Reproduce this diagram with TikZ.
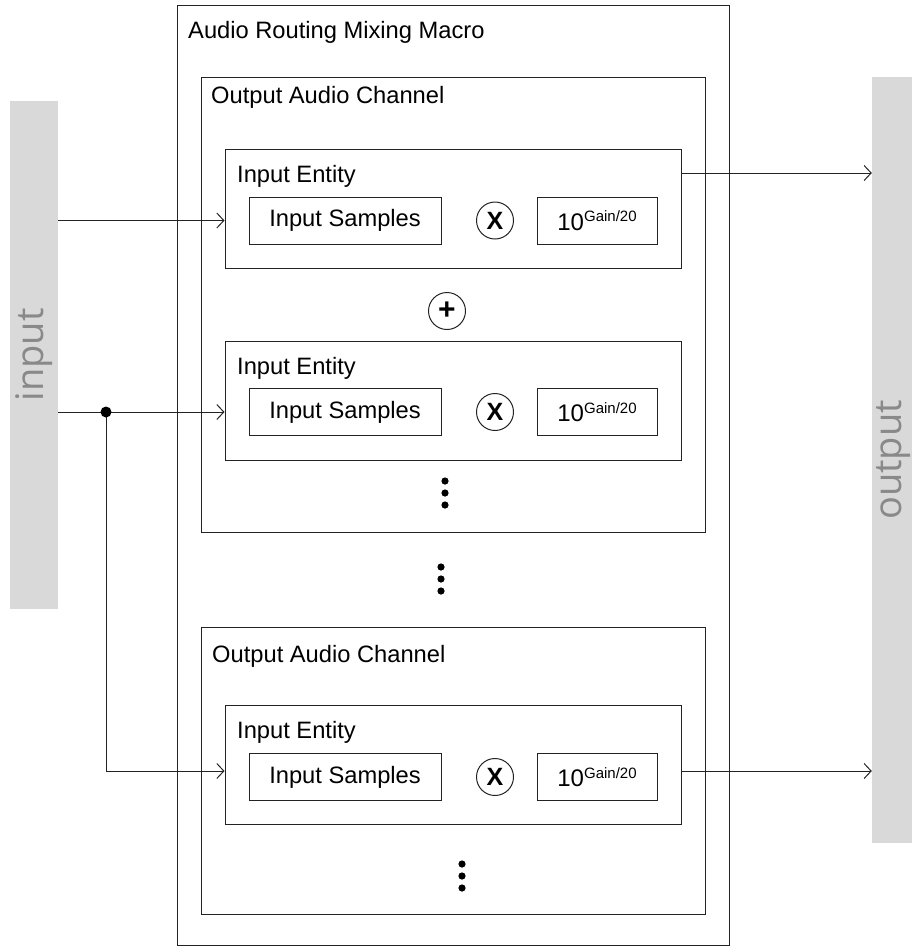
\documentclass[tikz,border=0pt]{standalone}
\usepackage{fontspec}
\setmainfont{Liberation Sans}
\newfontfamily\barfont{Open Sans}
\usepackage{xcolor}
\usepackage{tikz}
\usetikzlibrary{arrows.meta}
\definecolor{barfill}{RGB}{217,217,217}
\definecolor{bartext}{RGB}{137,137,137}
\definecolor{edge}{RGB}{35,35,35}
\newcommand{\gainexp}{{\fontsize{24}{28}\selectfont 10\raisebox{8.5pt}{\fontsize{15}{17}\selectfont Gain/20}}}
\tikzset{
  blk/.style={draw=edge, line width=1pt, inner sep=0pt},
  ttl/.style={anchor=base west, inner sep=0pt, font=\fontsize{23.7}{28}\selectfont},
  cell/.style={draw=edge, line width=1pt, minimum height=47pt, inner sep=0pt,
               font=\fontsize{23.7}{28}\selectfont},
  op/.style={circle, draw=edge, line width=1pt, minimum size=37pt, inner sep=0pt,
             font=\fontsize{25}{28}\selectfont\bfseries},
  bar/.style={fill=barfill, inner sep=0pt},
  barlbl/.style={rotate=90, inner sep=0pt, text=bartext, font=\barfont\fontsize{38}{44}\selectfont},
  sig/.style={-{Straight Barb[length=7pt, width=15pt]}, line width=1pt, draw=edge},
  wire/.style={line width=1pt, draw=edge}
}

\begin{document}
\begin{tikzpicture}[x=1pt, y=-1pt]
  \useasboundingbox (0,0) rectangle (912,951);
  % side bars
  \node[bar, minimum width=48pt, minimum height=508pt] (inbar) at (34,355) {};
  \node[barlbl] (intxt) at (inbar.center) {input};
  \node[bar, minimum width=44pt, minimum height=766pt] (outbar) at (894,460) {};
  \node[barlbl] (outtxt) at (outbar.center) {output};
  % macro and channels
  \node[blk, minimum width=552pt, minimum height=940pt] (macro) at (453,475) {};
  \node[ttl] (macrot) at (188,38) {Audio Routing Mixing Macro};
  \node[blk, minimum width=504pt, minimum height=455pt] (oac1) at (453,304.5) {};
  \node[ttl] (oac1t) at (211,103) {Output Audio Channel};
  \node[blk, minimum width=504pt, minimum height=287pt] (oac2) at (453,770.5) {};
  \node[ttl] (oac2t) at (212,662) {Output Audio Channel};
  % Row 1
  \node[blk, minimum width=456pt, minimum height=119pt] (ie1) at (453,208.5) {};
  \node[ttl] (ie1t) at (237,182) {Input Entity};
  \node[cell, minimum width=192pt] (samp1) at (345,220.5) {Input Samples};
  \node[op] (mul1) at (495,220.5) {X};
  \node[cell, minimum width=120pt] (gain1) at (597,220.5) {\gainexp};
  % sum
  \node[op, font=\fontsize{30}{30}\selectfont\bfseries] (sum) at (447,311) {+};
  % Row 2
  \node[blk, minimum width=456pt, minimum height=119pt] (ie2) at (453,400.5) {};
  \node[ttl] (ie2t) at (237,374) {Input Entity};
  \node[cell, minimum width=192pt] (samp2) at (345,412) {Input Samples};
  \node[op] (mul2) at (495,412) {X};
  \node[cell, minimum width=120pt] (gain2) at (597,412) {\gainexp};
  % Row 3
  \node[blk, minimum width=456pt, minimum height=119pt] (ie3) at (453,764.5) {};
  \node[ttl] (ie3t) at (237,738) {Input Entity};
  \node[cell, minimum width=192pt] (samp3) at (345,777) {Input Samples};
  \node[op] (mul3) at (495,777) {X};
  \node[cell, minimum width=120pt] (gain3) at (597,777) {\gainexp};
  % more entries
  \fill[black] (445,481) circle (3.6pt) (445,493) circle (3.6pt) (445,505) circle (3.6pt);
  \fill[black] (441,567) circle (3.6pt) (441,579) circle (3.6pt) (441,591) circle (3.6pt);
  \fill[black] (462,864) circle (3.6pt) (462,876) circle (3.6pt) (462,888) circle (3.6pt);
  % signals
  \coordinate (split) at (106,412);
  \draw[sig] (inbar.east |- samp1) -- (ie1.west |- samp1);
  \draw[wire] (inbar.east |- samp2) -- (split);
  \draw[sig] (split) -- (ie2.west |- samp2);
  \draw[sig] (split) |- (ie3.west |- 0,771);
  \fill[black] (split) circle (5.5pt);
  \draw[sig] (ie1.east |- 0,173) -- (outbar.west |- 0,173);
  \draw[sig] (ie3.east |- 0,771) -- (outbar.west |- 0,771);
\end{tikzpicture}
\end{document}
